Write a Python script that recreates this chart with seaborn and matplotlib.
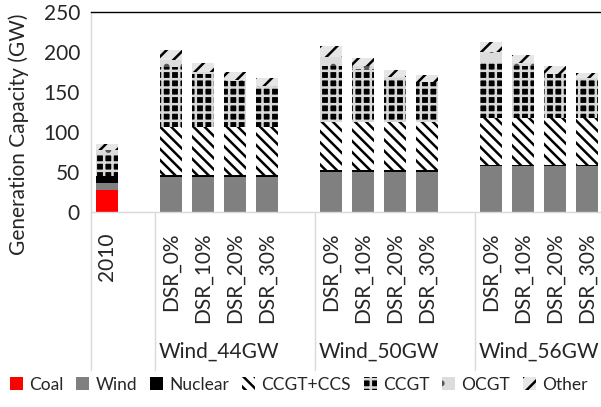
import numpy as np
import pandas as pd
import matplotlib
matplotlib.use("Agg")
import matplotlib.pyplot as plt
import matplotlib.transforms as mtransforms
from matplotlib.lines import Line2D
from matplotlib.patches import Patch
import seaborn as sns

# bars (left to right) and their scenario group
bar_labels = ["2010",
              "DSR_0%", "DSR_10%", "DSR_20%", "DSR_30%",
              "DSR_0%", "DSR_10%", "DSR_20%", "DSR_30%",
              "DSR_0%", "DSR_10%", "DSR_20%", "DSR_30%"]
bar_groups = ["2010"] + ["Wind_44GW"] * 4 + ["Wind_50GW"] * 4 + ["Wind_56GW"] * 4
group_names = ["Wind_44GW", "Wind_50GW", "Wind_56GW"]

# capacity per technology (GW)
coal     = [27, 0, 0, 0, 0, 0, 0, 0, 0, 0, 0, 0, 0]
wind     = [9, 44, 44, 44, 44, 50, 50, 50, 50, 57, 57, 57, 57]
nuclear  = [9, 2, 2, 2, 2, 2, 2, 2, 2, 2, 2, 2, 2]
ccgt_ccs = [0, 60, 60, 60, 60, 61, 61, 61, 61, 58, 58, 58, 58]
ccgt     = [29, 75, 66, 58, 50, 70, 66, 55, 49, 71, 65, 55, 49]
ocgt     = [3, 9, 3, 1, 1, 11, 3, 1, 1, 12, 4, 1, 1]
other    = [8, 12, 11, 10, 10, 13, 10, 9, 8, 13, 10, 9, 7]

layers = ["Coal", "Wind", "Nuclear", "CCGT+CCS", "CCGT", "OCGT", "Other"]
df = pd.DataFrame({"label": bar_labels, "group": bar_groups,
                   "Coal": coal, "Wind": wind, "Nuclear": nuclear,
                   "CCGT+CCS": ccgt_ccs, "CCGT": ccgt, "OCGT": ocgt, "Other": other})
df["slot"] = df["group"] + "|" + df["label"]
cum = df[layers].cumsum(axis=1)

# empty slots between the groups
order = []
for g in ["2010"] + group_names:
    if order:
        order.append("gap_" + g)
    order += list(df.loc[df["group"] == g, "slot"])

# face colour, hatch colour, hatch
styles = {
    "Coal": ("#ff0000", "#ff0000", None),
    "Wind": ("#808080", "#808080", None),
    "Nuclear": ("#000000", "#000000", None),
    "CCGT+CCS": ("#ffffff", "#000000", "\\\\\\"),
    "CCGT": ("#000000", "#d9d9d9", "++"),
    "OCGT": ("#dcdcdc", "#555555", "."),
    "Other": ("#e6e6e6", "#000000", "//"),
}

sns.set_theme(style="white")
plt.rcParams["font.family"] = ["Lato", "DejaVu Sans"]
plt.rcParams["hatch.linewidth"] = 1.8
txt = "#262626"

fig = plt.figure(figsize=(6.01, 4.07), dpi=100)
ax = fig.add_axes([91 / 601, 195 / 407, 510 / 601, 200 / 407])

# draw cumulative totals from the top layer down so lower layers cover them
for layer in reversed(layers):
    face, hc, h = styles[layer]
    sns.barplot(x=df["slot"], y=cum[layer], order=order, color=face, saturation=1,
                width=0.69, hatch=h, edgecolor=hc, linewidth=0, errorbar=None, ax=ax)

ax.set_xlim(-0.5, 15.44)
ax.set_ylim(0, 250)
ax.set_yticks(np.arange(0, 251, 50))
ax.tick_params(axis="y", length=0, pad=8, labelsize=15, labelcolor=txt)
ax.set_ylabel("Generation Capacity (GW)", fontsize=15, color=txt)
ax.yaxis.set_label_coords(-0.122, 0.39)
ax.set_xlabel("")

pos = [order.index(s) for s in df["slot"]]
ax.set_xticks(pos)
ax.set_xticklabels(bar_labels, rotation=90, fontsize=15, color=txt)
ax.tick_params(axis="x", length=0, pad=15)

for side in ["left", "bottom"]:
    ax.spines[side].set_color("#d9d9d9")
    ax.spines[side].set_linewidth(1)
ax.spines["top"].set_color("#000000")
ax.spines["top"].set_linewidth(1)
ax.spines["right"].set_visible(False)

# group labels and separators under the axis
trans = mtransforms.blended_transform_factory(ax.transData, ax.transAxes)
for g in group_names:
    idx = [order.index(s) for s in df.loc[df["group"] == g, "slot"]]
    ax.text(np.mean(idx), -0.70, g, transform=trans, ha="center", va="center",
            fontsize=15, color=txt)
for xs in [-0.5, 1.5, 6.5, 11.5]:
    ax.add_line(Line2D([xs, xs], [0, -0.79], transform=trans, color="#d9d9d9",
                       linewidth=1, clip_on=False))

handles = [Patch(facecolor=styles[k][0], edgecolor=styles[k][1], hatch=styles[k][2],
                 linewidth=0, label=k) for k in layers]
fig.legend(handles=handles, loc="center", bbox_to_anchor=(0.497, 0.055), ncol=7,
           frameon=False, fontsize=12.5, handlelength=0.75, handleheight=0.75,
           handletextpad=0.35, columnspacing=0.75, labelcolor=txt)

fig.savefig("out.png", dpi=100)
